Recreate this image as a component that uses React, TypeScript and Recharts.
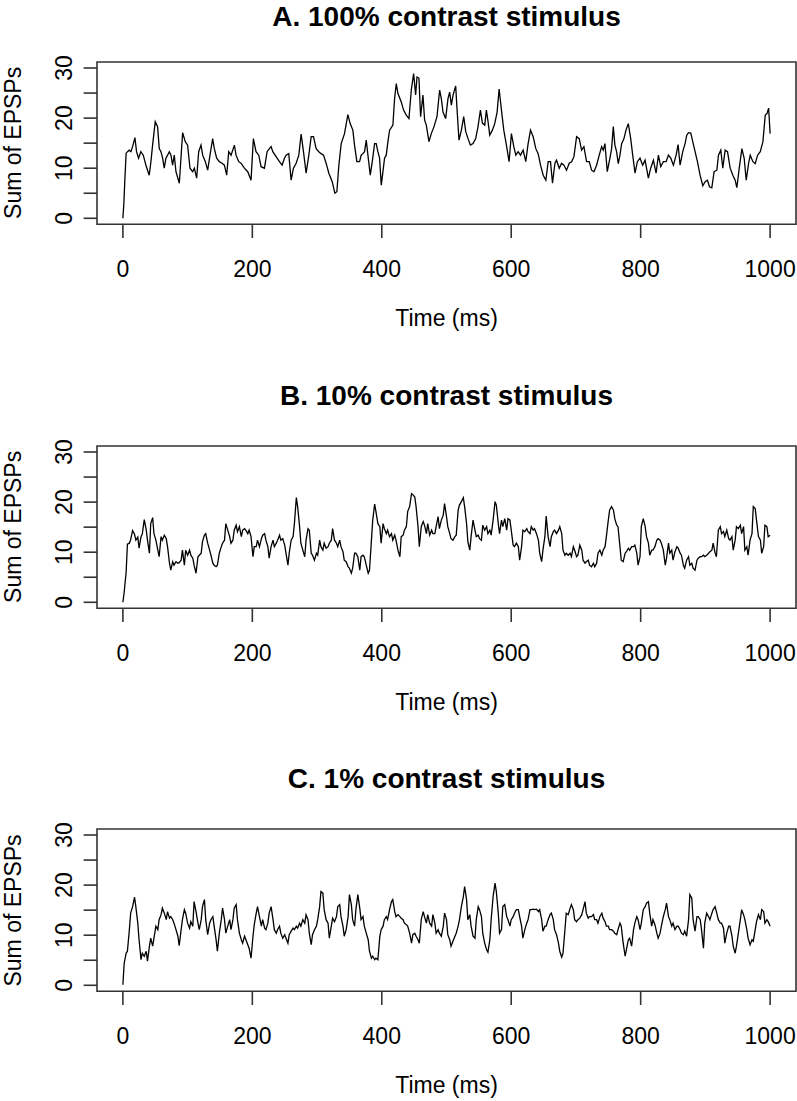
import { LineChart, Line, XAxis, YAxis, ReferenceArea } from 'recharts'

// Panel A: sample times (ms) and summed EPSPs
const timesA = [
  0, 1.5, 3, 5, 7.2, 9.8, 12.4, 15, 18.6, 21.1,
  24.2, 27.8, 31.5, 35.6, 40.7, 43.3, 45.9, 50, 53.6, 56.2,
  58.8, 61.4, 63.9, 66.5, 69.1, 71.7, 74.3, 76.8, 79.4, 82,
  87.2, 89.7, 92.3, 96.4, 100, 103.7, 107.8, 110.4, 114, 117.1,
  120.7, 123.3, 127.4, 131, 134.6, 138.7, 141.3, 144.9, 149, 153.2,
  156.8, 160.4, 163.5, 167.1, 172.3, 174.8, 179, 182.6, 187.7, 192.9,
  198, 201.6, 205.7, 209.9, 213.5, 218.7, 222.8, 226.4, 229, 231.6,
  236.7, 241.9, 246, 249.6, 252.2, 256.3, 259.9, 263.5, 267.7, 271.8,
  275.4, 279, 283.1, 287.3, 290.9, 294.5, 298.6, 302.7, 306.3, 310,
  314, 318.2, 323.4, 327.5, 330.6, 333.7, 337.3, 342.4, 347.6, 351.2,
  355.3, 357.9, 361.5, 365.7, 368.2, 370.8, 373.4, 376, 378.6, 382.2,
  385.3, 388.9, 391.4, 394, 396.6, 399.2, 401.8, 404.3, 406.9, 409.5,
  412.1, 417.2, 419.8, 422.4, 425, 430.1, 433.7, 437.9, 442, 445.6,
  449.2, 452.3, 454.4, 457.4, 460, 463.6, 466.2, 468.8, 472.9, 476.5,
  480.7, 485.3, 489.4, 492, 494.6, 498.7, 502.3, 504.9,
  507.5, 510.1, 514.2, 516.2, 519.3, 523, 526.6, 529.7, 533.3, 536.9,
  541, 545.1, 548.7, 552.4, 555.5, 559.1, 561.6, 564.2, 566.8, 570.9,
  574.5, 578.2, 581.3, 584.9, 588.5, 592.6, 596.7, 600.3, 604, 607.1,
  610.7, 614.3, 618.4, 622.5, 626.1, 629.8, 633.9, 638, 641.6, 645.3,
  649.4, 653.5, 657.1, 660.7, 663.8, 667.5, 670, 674.2, 677.8, 681.4,
  685.5, 689.6, 693.3, 696.9, 701, 705.1, 708.7, 712.3, 716.4, 720.5,
  724.2, 727.8, 731.9, 736, 739.7, 742.2, 744.8, 748.4, 752.5, 755.1,
  757.7, 760.2, 762.8, 765.4, 768, 770.6, 774.2, 777.3, 780.9, 784.6,
  787.7, 791.3, 794.9, 799, 803.1, 806.8, 811.9, 815.5, 819.7, 823.8,
  827.4, 831, 835.1, 839.3, 842.9, 846.5, 850.6, 854.8, 857.8, 860.9,
  865, 868.6, 871.2, 873.8, 877.4, 880.5, 884.1, 887.7, 891.8, 896,
  899.6, 903.2, 906.3, 909.9, 913.5, 917.7, 920.2, 923.8, 926.9, 930.5,
  934.2, 938.3, 942.4, 946, 948.6, 952.3, 956.4, 960, 963.1, 966.7,
  969.3, 973.4, 977, 980.7, 984.8, 988.9, 992.5, 995.1, 997.7, 1000,
]

const valuesA = [
  0, 3, 7.6, 13, 13.3, 13.6, 13.3, 14.3, 16.1, 13.3,
  12, 13.3, 12.6, 10.6, 8.6, 11.3, 14.6, 19.3, 18.3, 13.9,
  13.3, 12, 10, 12, 12.6, 13.3, 12.6, 10.6, 12.6, 9.3,
  7, 12, 17.1, 15.3, 14.6, 10, 9.3, 10, 8, 13.3,
  14.6, 12.6, 11.3, 9.6, 12.6, 15.9, 13.9, 12, 11.3, 11,
  10.6, 8.6, 13.3, 12.6, 14.6, 12.6, 11.3, 11, 10, 9.3,
  7.6, 15.9, 13.3, 12.6, 10.3, 10, 13.3, 13.9, 14.3, 13.3,
  12.3, 11.3, 10.6, 12, 12.6, 12.9, 7.6, 10, 11, 12.6,
  16.8, 13.3, 9, 12.6, 16.3, 16.3, 13.9, 13.3, 12.9, 12.6,
  11, 9, 7.3, 5, 5.3, 10.6, 14.9, 16.9, 20.7, 18.9,
  17.6, 14.6, 11.3, 11.3, 12.6, 12.9, 13.3, 15.6, 12.6, 8.6,
  11.3, 14.9, 14.9, 13.3, 12, 6.6, 9.3, 12, 12.6, 15.3,
  17.6, 18.6, 23.9, 26.9, 24.9, 23.2, 21.6, 20.6, 19.9, 25.6,
  28.9, 24.6, 28.2, 28, 20.3, 24.6, 19.6, 18.6, 15.3, 16.9,
  18.3, 20.3, 25.6, 23.9, 21.2, 19.9, 23.9, 25.2,
  22.6, 24.6, 26.4, 21.9, 15.6, 17.6, 20.3, 17.3, 15.9, 14.6,
  14.9, 15.9, 18.3, 21.6, 19, 18.6, 21.6, 19.3, 16.6, 17.6,
  18.9, 21.2, 25.8, 21.6, 17.6, 14.6, 11.3, 16.9, 14.3, 12.6,
  13.3, 12.6, 13.6, 11.3, 14.9, 17.6, 16.3, 13.9, 12.9, 10.6,
  8.6, 7.6, 11.3, 11.3, 7, 11, 11.6, 10, 11, 10.6,
  9.6, 11, 11.3, 12.3, 16.3, 15.9, 13.6, 14.3, 11.3, 11.3,
  9.6, 9.3, 10.6, 12.6, 14.3, 13.6, 14.9, 9.3, 12, 13.9,
  18.3, 14.6, 13.3, 10.9, 12.6, 14.9, 15.9, 17.6, 18.9, 15.9,
  12.6, 9, 11.3, 12, 10.6, 11.6, 8, 10, 11.6, 9,
  12.6, 10.3, 11.3, 11.3, 12.6, 12, 10.6, 12.6, 14.7, 10.6,
  13.3, 14.9, 16.6, 17.1, 17, 15.3, 13.3, 11.3, 8.6, 6.5,
  7.3, 7.6, 6.3, 6.1, 9.3, 9.6, 12.6, 13.6, 10, 13.6,
  13.3, 10, 8.6, 7.6, 6.1, 10, 13.9, 11.9, 7.6, 10.9,
  12.6, 11.3, 10.9, 12.6, 13.3, 15.3, 20.6, 20.9, 22, 16.9,
]

// Panels B and C share one set of sample times (ms)
const timesBC = [
  0, 2, 5, 7, 10, 12, 15, 18, 20, 23,
  25, 28, 30, 33, 36, 38, 41, 43, 46, 48,
  51, 54, 56, 59, 61, 64, 67, 69, 72, 74,
  77, 79, 82, 85, 87, 90, 92, 95, 97, 100,
  103, 105, 108, 110, 113, 116, 118, 121, 123, 126,
  128, 131, 134, 136, 139, 141, 144, 146, 149, 152,
  154, 157, 159, 162, 165, 167, 170, 172, 175, 177,
  180, 183, 185, 188, 190, 193, 195, 198, 201, 203,
  206, 208, 211, 214, 216, 219, 221, 224, 226, 229,
  232, 234, 237, 239, 242, 244, 247, 250, 252, 255,
  257, 260, 263, 265, 268, 270, 273, 275, 278, 281,
  283, 286, 288, 291, 293, 296, 299, 301, 304, 306,
  309, 311, 314, 317, 319, 322, 324, 327, 330, 332,
  335, 337, 340, 342, 345, 348, 350, 353, 355, 358,
  360, 363, 366, 368, 371, 373, 376, 379, 381, 384,
  386, 389, 391, 394, 397, 399, 402, 404, 407, 409,
  412, 415, 417, 420, 422, 425, 428, 430, 433, 435,
  438, 440, 443, 446, 448, 451, 453, 456, 458, 461,
  464, 466, 469, 471, 474, 477, 479, 482, 484, 487,
  489, 492, 495, 497, 500, 502, 505, 507, 510, 513,
  515, 518, 520, 523, 526, 528, 531, 533, 536, 538,
  541, 544, 546, 549, 551, 554, 556, 559, 562, 564,
  567, 569, 572, 575, 577, 580, 582, 585, 587, 590,
  593, 595, 598, 600, 603, 605, 608, 611, 613, 616,
  618, 621, 624, 626, 629, 631, 634, 636, 639, 642,
  644, 647, 649, 652, 654, 657, 660, 662, 665, 667,
  670, 673, 675, 678, 680, 683, 685, 688, 691, 693,
  696, 698, 701, 703, 706, 709, 711, 714, 716, 719,
  721, 724, 727, 729, 732, 734, 737, 740, 742, 745,
  747, 750, 752, 755, 758, 760, 763, 765, 768, 770,
  773, 776, 778, 781, 783, 786, 789, 791, 794, 796,
  799, 801, 804, 807, 809, 812, 814, 817, 819, 822,
  825, 827, 830, 832, 835, 838, 840, 843, 845, 848,
  850, 853, 856, 858, 861, 863, 866, 868, 871, 874,
  876, 879, 881, 884, 887, 889, 892, 894, 897, 899,
  902, 905, 907, 910, 912, 915, 917, 920, 923, 925,
  928, 930, 933, 936, 938, 941, 943, 946, 948, 951,
  954, 956, 959, 961, 964, 966, 969, 972, 974, 977,
  979, 982, 985, 987, 990, 992, 995, 997, 1000,
]

const valuesB = [
  0, 2.0, 6.0, 11.6, 11.8, 12.5, 14.3, 13.6, 12.4, 13.0,
  10.8, 13.1, 13.6, 16.5, 14.5, 12.4, 9.8, 15.7, 16.9, 13.7,
  12.4, 10.4, 9.1, 13.1, 12.4, 13.4, 12.7, 11.1, 7.8, 6.4,
  8.1, 7.4, 8.1, 7.8, 7.9, 8.4, 10.4, 7.4, 10.4, 9.4,
  10.4, 9.4, 8.8, 7.4, 5.8, 9.1, 9.4, 9.8, 12.1, 13.4,
  13.7, 11.8, 10.4, 9.4, 7.8, 7.4, 7.1, 7.4, 9.8, 11.1,
  11.8, 12.4, 15.7, 14.4, 13.1, 11.8, 12.4, 14.4, 15.4, 14.1,
  15.1, 13.1, 14.4, 14.7, 14.4, 13.7, 14.4, 13.1, 9.1, 11.1,
  11.1, 12.4, 11.1, 12.7, 13.4, 13.7, 12.4, 11.1, 8.8, 11.1,
  12.4, 11.1, 11.8, 12.4, 13.4, 12.4, 12.7, 11.4, 9.8, 7.4,
  9.8, 12.4, 13.1, 15.7, 20.9, 19.1, 15.1, 11.8, 10.4, 9.1,
  12.4, 14.7, 14.4, 9.8, 9.4, 8.4, 9.8, 9.4, 12.4, 11.1,
  10.4, 11.8, 10.8, 11.1, 11.8, 12.4, 14.7, 12.4, 11.8, 11.1,
  12.4, 11.1, 10.1, 8.4, 8.1, 7.1, 6.8, 5.8, 6.8, 9.8,
  9.8, 9.1, 6.4, 9.1, 9.4, 9.1, 7.4, 5.8, 6.4, 12.4,
  16.4, 19.6, 18.1, 15.7, 15.1, 11.8, 15.7, 14.7, 13.7, 14.4,
  13.1, 13.7, 12.4, 13.4, 12.4, 10.4, 9.1, 13.1, 13.4, 14.4,
  15.1, 18.1, 19.1, 21.7, 21.5, 21.0, 19.1, 15.1, 11.1, 15.1,
  16.1, 15.4, 13.7, 15.7, 13.4, 14.4, 13.7, 13.7, 15.1, 17.1,
  14.7, 16.4, 17.4, 19.7, 17.1, 15.1, 13.7, 12.7, 12.4, 13.1,
  13.4, 18.4, 19.4, 20.1, 20.9, 19.1, 15.7, 12.1, 10.4, 13.1,
  16.4, 14.4, 13.1, 13.4, 12.7, 12.4, 15.4, 14.4, 15.1, 13.7,
  14.4, 13.4, 16.4, 20.1, 19.4, 15.7, 13.7, 16.4, 15.1, 16.7,
  14.4, 16.7, 16.4, 14.4, 11.4, 11.1, 11.8, 11.1, 8.4, 11.1,
  14.4, 14.1, 14.7, 14.1, 13.7, 15.1, 14.4, 14.7, 13.7, 12.4,
  9.8, 8.1, 10.4, 13.1, 17.2, 13.1, 11.1, 13.1, 14.1, 14.4,
  13.7, 14.4, 15.1, 13.7, 10.4, 9.4, 9.8, 9.4, 9.8, 9.1,
  11.1, 10.4, 9.1, 9.4, 11.4, 10.4, 8.4, 7.8, 8.1, 8.4,
  7.4, 7.1, 7.8, 7.1, 7.8, 9.8, 10.4, 9.4, 10.4, 11.1,
  13.1, 16.4, 18.4, 19.1, 18.4, 16.7, 15.4, 15.1, 11.1, 8.4,
  8.1, 9.8, 10.1, 10.8, 10.4, 11.1, 11.1, 11.4, 9.8, 7.4,
  9.1, 15.1, 16.7, 15.1, 13.1, 11.8, 9.4, 10.4, 10.4, 11.1,
  12.4, 12.7, 12.4, 11.8, 10.4, 7.4, 8.8, 11.8, 9.8, 10.4,
  8.4, 10.1, 11.1, 10.8, 9.8, 9.4, 7.4, 6.8, 8.4, 9.1,
  7.4, 7.8, 6.8, 6.4, 8.4, 8.8, 9.1, 9.1, 9.4, 9.1,
  9.4, 9.8, 10.1, 10.4, 11.8, 9.8, 9.1, 14.4, 15.1, 13.7,
  14.1, 13.1, 14.4, 12.7, 12.4, 13.1, 10.4, 12.4, 15.1, 14.7,
  15.4, 13.7, 15.1, 10.4, 11.1, 9.4, 12.4, 13.7, 19.1, 18.7,
  16.4, 13.1, 12.4, 9.8, 11.1, 15.4, 15.1, 13.1, 13.4,
]

const valuesC = [
  0.1, 4.4, 6.4, 6.8, 11.1, 14.4, 15.7, 17.6, 15.7, 12.4,
  9.1, 5.1, 6.4, 5.8, 6.8, 4.8, 7.8, 9.4, 7.8, 9.4,
  11.8, 11.1, 13.1, 14.1, 15.4, 14.4, 13.1, 14.7, 13.4, 13.7,
  13.1, 12.4, 11.1, 9.8, 7.9, 11.1, 13.1, 15.1, 14.4, 12.4,
  11.4, 12.7, 11.8, 16.7, 14.7, 12.4, 11.1, 13.1, 15.7, 17.1,
  13.1, 10.1, 12.4, 13.1, 13.7, 11.8, 9.1, 6.8, 10.4, 13.1,
  15.4, 13.1, 10.4, 11.8, 13.1, 11.1, 13.1, 15.4, 16.1, 13.1,
  10.4, 9.1, 8.4, 9.8, 9.1, 8.1, 7.4, 5.4, 9.8, 12.1,
  14.4, 15.7, 13.7, 11.8, 13.1, 11.4, 11.1, 12.4, 14.4, 15.7,
  13.1, 11.1, 10.4, 11.1, 11.8, 10.4, 9.4, 10.1, 9.4, 8.4,
  10.1, 10.8, 11.4, 11.1, 11.8, 11.4, 12.4, 11.8, 13.1, 12.4,
  14.1, 13.1, 10.4, 8.1, 10.1, 11.1, 11.8, 13.1, 15.7, 18.7,
  18.4, 15.1, 13.1, 12.4, 9.4, 11.8, 13.4, 12.7, 13.7, 15.7,
  16.1, 13.7, 11.8, 9.8, 11.1, 13.7, 18.1, 16.1, 13.1, 11.8,
  15.1, 18.1, 15.4, 13.1, 13.7, 11.8, 10.4, 9.1, 6.8, 5.4,
  5.8, 5.1, 5.4, 5.1, 9.8, 11.1, 11.8, 13.1, 13.7, 13.1,
  15.1, 16.7, 17.1, 14.7, 13.7, 14.1, 13.7, 13.4, 13.1, 12.4,
  12.1, 11.8, 10.4, 8.4, 10.1, 10.4, 9.8, 9.1, 8.4, 13.1,
  14.7, 13.7, 12.4, 14.1, 12.4, 11.8, 14.1, 12.4, 10.4, 11.1,
  10.4, 9.8, 11.8, 14.4, 13.1, 10.1, 9.1, 7.8, 8.8, 9.8,
  10.4, 11.8, 13.1, 15.7, 17.7, 19.7, 17.1, 13.1, 14.1, 11.8,
  9.8, 9.4, 13.1, 15.7, 15.1, 13.7, 10.4, 8.4, 7.1, 6.6,
  9.1, 13.1, 17.7, 20.4, 18.7, 14.4, 10.4, 11.1, 15.7, 16.1,
  13.7, 13.1, 11.8, 13.1, 13.7, 14.4, 15.1, 15.1, 13.7, 11.8,
  9.4, 11.1, 12.4, 13.1, 15.1, 15.1, 15.2, 15.1, 15.2, 14.7,
  15.1, 13.1, 10.8, 11.8, 11.8, 13.1, 14.1, 14.4, 13.1, 11.1,
  10.1, 8.4, 6.8, 5.6, 6.4, 11.1, 14.4, 14.1, 15.4, 16.1,
  15.1, 13.1, 12.7, 13.1, 13.4, 14.1, 15.1, 16.7, 14.4, 13.4,
  13.7, 13.7, 14.1, 13.1, 13.1, 12.4, 13.7, 14.4, 13.4, 12.7,
  11.8, 11.8, 11.1, 11.1, 10.8, 10.4, 10.1, 11.1, 12.4, 11.8,
  8.4, 5.8, 7.1, 9.1, 9.4, 7.8, 11.1, 12.4, 13.7, 13.1,
  11.1, 12.4, 15.1, 15.7, 16.4, 16.7, 14.4, 11.8, 13.1, 12.1,
  10.4, 9.4, 10.4, 11.8, 13.7, 15.1, 16.4, 13.7, 13.1, 11.8,
  12.4, 11.1, 11.8, 11.8, 11.1, 10.4, 10.1, 10.8, 9.8, 13.1,
  18.1, 17.4, 13.1, 10.8, 13.7, 13.7, 13.1, 11.1, 7.4, 12.4,
  14.4, 13.7, 13.1, 14.4, 15.1, 15.7, 14.7, 13.1, 12.4, 12.4,
  11.4, 8.4, 10.4, 11.8, 11.8, 9.8, 7.8, 6.4, 7.8, 10.4,
  13.1, 15.1, 14.1, 13.1, 11.1, 9.4, 8.1, 9.1, 8.8, 11.1,
  12.7, 14.1, 13.1, 15.1, 14.7, 12.4, 13.1, 12.7, 11.8,
]

const xTicks = [0, 200, 400, 600, 800, 1000]
const yTicks = [0, 5, 10, 15, 20, 25, 30]
const yLabelTicks = [0, 10, 20, 30]

const titles = ['A. 100% contrast stimulus', 'B. 10% contrast stimulus', 'C. 1% contrast stimulus']
const xLabel = 'Time (ms)'
const yLabel = 'Sum of EPSPs'

const FONT = '"Liberation Sans", Arial, Helvetica, sans-serif'
const AXIS = '#333'

// plot box geometry (R style box, 4% padding on both axes)
const W = 797
const PLOT_LEFT = 97
const PLOT_RIGHT = 796
const PLOT_H = 162.3
const TOP_PAD = 10
const CHART_H = 240

const panels = [
  { title: titles[0], times: timesA, values: valuesA, boxTop: 61.7, titleY: 26, xlabY: 326 },
  { title: titles[1], times: timesBC, values: valuesB, boxTop: 445.7, titleY: 405, xlabY: 710 },
  { title: titles[2], times: timesBC, values: valuesC, boxTop: 829.3, titleY: 788, xlabY: 1093 },
]

const XTick = (props: any) => {
  const { x, payload } = props
  return (
    <text x={x} y={TOP_PAD + PLOT_H + 53} textAnchor="middle" fontSize={23} fontFamily={FONT} fill="#000">
      {payload.value}
    </text>
  )
}

const YTick = (props: any) => {
  const { y, payload } = props
  if (!yLabelTicks.includes(payload.value)) return <g />
  const lx = 71.7
  return (
    <text
      x={lx}
      y={y}
      transform={`rotate(-90 ${lx} ${y})`}
      textAnchor="middle"
      fontSize={23}
      fontFamily={FONT}
      fill="#000"
    >
      {payload.value}
    </text>
  )
}

function Panel({ times, values, boxTop }: { times: number[]; values: number[]; boxTop: number }) {
  const data = times.map((t, i) => ({ t, v: values[i] }))
  return (
    <div style={{ position: 'absolute', left: 0, top: boxTop - TOP_PAD }}>
      <LineChart
        width={W}
        height={CHART_H}
        data={data}
        margin={{ top: TOP_PAD, right: W - PLOT_RIGHT, bottom: 0, left: 0 }}
      >
        <XAxis
          dataKey="t"
          type="number"
          domain={[-40, 1040]}
          ticks={xTicks}
          interval={0}
          allowDataOverflow
          axisLine={false}
          tickLine={{ stroke: AXIS, strokeWidth: 1.6 }}
          tickSize={13.7}
          height={CHART_H - TOP_PAD - PLOT_H}
          tick={(p: any) => <XTick {...p} />}
        />
        <YAxis
          type="number"
          domain={[-1.2, 31.2]}
          ticks={yTicks}
          interval={0}
          allowDataOverflow
          axisLine={false}
          tickLine={{ stroke: AXIS, strokeWidth: 1.6 }}
          tickSize={13.4}
          width={PLOT_LEFT}
          tick={(p: any) => <YTick {...p} />}
        />
        <ReferenceArea
          x1={-40}
          x2={1040}
          y1={-1.2}
          y2={31.2}
          fill="none"
          fillOpacity={0}
          stroke={AXIS}
          strokeWidth={1.6}
          strokeOpacity={1}
        />
        <Line
          type="linear"
          dataKey="v"
          stroke="#000"
          strokeWidth={1.3}
          dot={false}
          activeDot={false}
          isAnimationActive={false}
        />
      </LineChart>
    </div>
  )
}

export default function App() {
  const cx = (PLOT_LEFT + PLOT_RIGHT) / 2
  return (
    <div style={{ position: 'absolute', left: 0, top: 0, width: W, height: 1101, background: '#fff', overflow: 'hidden' }}>
      {panels.map((p, i) => (
        <Panel key={i} times={p.times} values={p.values} boxTop={p.boxTop} />
      ))}
      <svg width={W} height={1101} style={{ position: 'absolute', left: 0, top: 0, pointerEvents: 'none' }}>
        {panels.map((p, i) => {
          const cy = p.boxTop + PLOT_H / 2
          return (
            <g key={i} fontFamily={FONT} fill="#000">
              <text x={cx} y={p.titleY} textAnchor="middle" fontSize={28} fontWeight="bold">
                {p.title}
              </text>
              <text x={cx} y={p.xlabY} textAnchor="middle" fontSize={23}>
                {xLabel}
              </text>
              <text x={21} y={cy} transform={`rotate(-90 21 ${cy})`} textAnchor="middle" fontSize={23}>
                {yLabel}
              </text>
            </g>
          )
        })}
      </svg>
    </div>
  )
}
